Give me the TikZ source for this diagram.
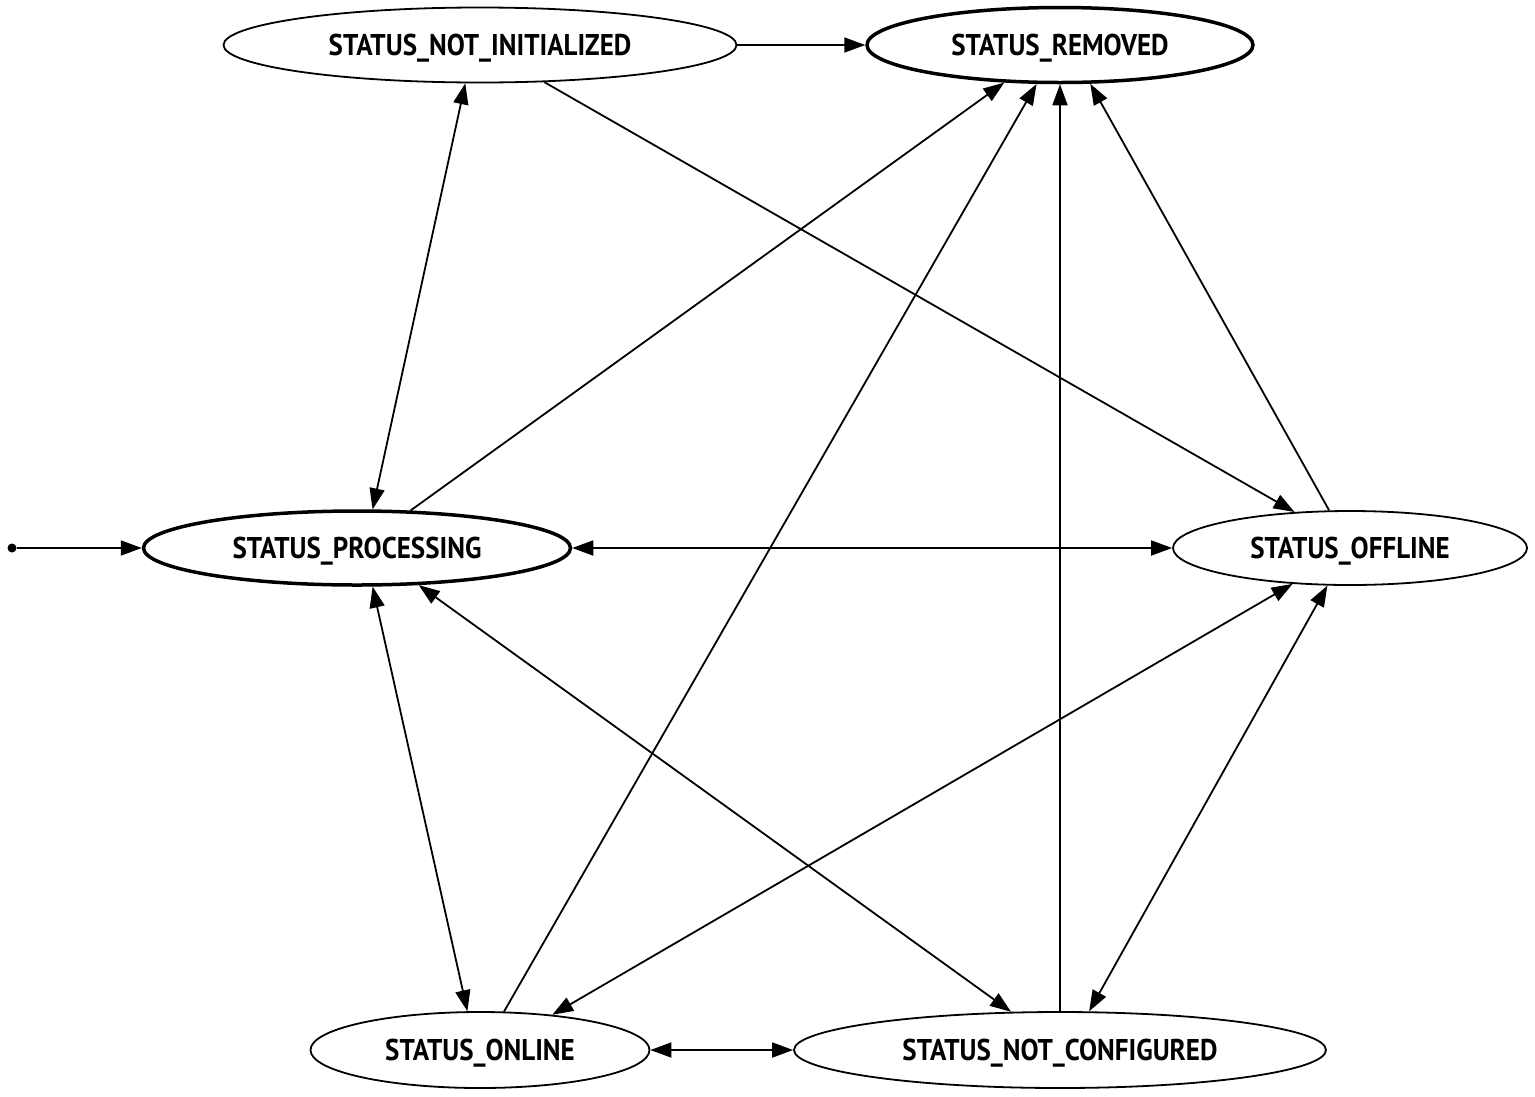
\documentclass[tikz,border=0pt]{standalone}
\usepackage{fontspec}
\setmainfont{PT Sans}[FakeStretch=0.9]
\usetikzlibrary{arrows.meta,shapes.geometric}
\begin{document}
\begin{tikzpicture}[x=1pt,y=-1pt,
  st/.style={ellipse,draw,line width=1.8pt,inner sep=0pt,text height=21pt,text depth=0pt,font=\fontsize{30}{30}\bfseries\selectfont},
  stb/.style={st,line width=3.5pt},
  edge/.style={line width=1.8pt,-{Triangle[length=21pt,width=15pt]}},
  bi/.style={line width=1.8pt,{Triangle[length=21pt,width=15pt]}-{Triangle[length=21pt,width=15pt]}}]
\useasboundingbox (0,0) rectangle (1535,1096);
\node[st,minimum width=513pt,minimum height=75pt] (ni) at (480,45) {STATUS\_NOT\_INITIALIZED};
\node[stb,minimum width=386pt,minimum height=75pt] (rm) at (1060,45) {STATUS\_REMOVED};
\node[stb,minimum width=427pt,minimum height=74pt] (pr) at (357,548) {STATUS\_PROCESSING};
\node[st,minimum width=354pt,minimum height=74pt] (of) at (1350,548) {STATUS\_OFFLINE};
\node[st,minimum width=339pt,minimum height=76pt] (on) at (480,1050) {STATUS\_ONLINE};
\node[st,minimum width=532pt,minimum height=76pt] (nc) at (1060,1050) {STATUS\_NOT\_CONFIGURED};
\node[circle,fill,inner sep=0pt,minimum size=9pt] (init) at (12,548) {};
\draw[edge] (init) -- (pr.west);
\draw[edge] (ni.east) -- (rm.west);
\draw[bi] (ni.-111.5) -- (pr.68.5);
\draw[edge] (ni.-30.3) -- (of.147.7);
\draw[edge] (pr.35.6) -- (rm.-146.1);
\draw[edge] (on.58.8) -- (rm.-121.9);
\draw[edge] (nc.north) -- (rm.south);
\draw[edge] (of.119.9) -- (rm.-52.9);
\draw[bi] (pr.east) -- (of.west);
\draw[bi] (pr.-68.5) -- (on.108.9);
\draw[bi] (pr.-31.8) -- (nc.142.8);
\draw[bi] (of.-148.3) -- (on.26.9);
\draw[bi] (of.-121.9) -- (nc.53.6);
\draw[bi] (on.east) -- (nc.west);
\end{tikzpicture}
\end{document}
